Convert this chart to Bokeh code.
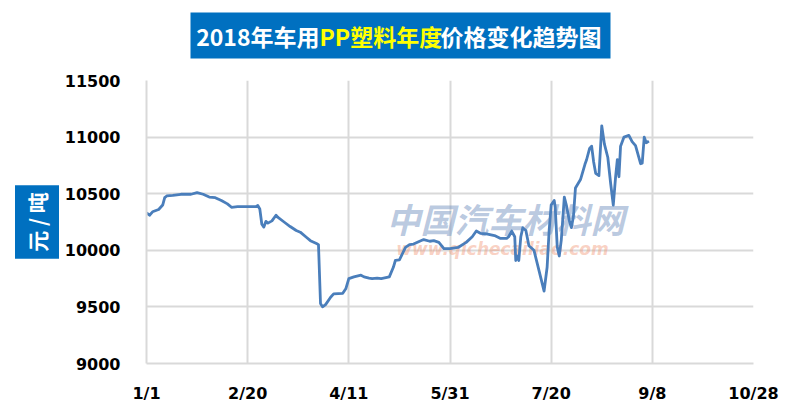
from bokeh.plotting import figure
from bokeh.models import Label, FixedTicker, Range1d, Title
from bokeh.layouts import column
from bokeh.core.properties import value
from bokeh.embed import file_html
from bokeh.resources import INLINE

# ---- data (day offset from Jan 1, 2018 ; price in 元/吨) ----
days = [0, 1.5, 3, 6, 8, 9, 10, 13, 17, 22, 25, 28, 31, 34, 37, 40, 42, 45, 54, 55, 56,
        57, 58, 59, 60, 62, 64, 65, 68, 71, 74, 76, 79, 81, 84, 85, 86, 87, 88.5, 91,
        92.5, 97, 98.5, 100, 102.5, 106, 107.5, 110, 111.5, 114, 116, 120, 122, 123,
        125, 128, 130, 132, 135, 137, 140, 142, 144.5, 147, 150, 154, 158, 161, 163,
        165, 168, 172, 175, 178, 179, 180.5, 182, 182.5, 183, 184, 185, 186, 187.5,
        189, 191.5, 194, 196.5, 198, 199, 200, 201.5, 202, 203, 204, 205, 206.5,
        207.5, 209, 210, 211, 212, 214.5, 216.7, 217.5, 219, 220, 221, 222, 223.6,
        225, 226.3, 228, 229.4, 230.7, 231.8, 232.7, 233.5, 234.3, 236, 238.4, 240,
        241.7, 244.2, 245, 246, 247, 248.3]
prices = [10330, 10310, 10340, 10360, 10400, 10465, 10480, 10485, 10495, 10495, 10510,
          10495, 10470, 10465, 10440, 10410, 10380, 10385, 10385, 10395, 10365, 10230,
          10205, 10255, 10240, 10260, 10310, 10290, 10250, 10210, 10175, 10160, 10115,
          10085, 10060, 10050, 9530, 9500, 9520, 9585, 9615, 9620, 9660, 9750, 9765,
          9780, 9765, 9755, 9750, 9755, 9750, 9765, 9850, 9910, 9915, 10025, 10050,
          10055, 10080, 10095, 10080, 10085, 10070, 10015, 10015, 10025, 10070, 10120,
          10170, 10150, 10145, 10130, 10105, 10105, 10120, 10170, 10120, 9910, 9950,
          9910, 10120, 10200, 10175, 10040, 10000, 9820, 9640, 9850, 10175, 10400,
          10440, 10380, 10030, 9950, 10090, 10470, 10400, 10260, 10200, 10300, 10550,
          10625, 10760, 10800, 10900, 10920, 10780, 10680, 10660, 11100, 10940, 10820,
          10590, 10400, 10640, 10800, 10650, 10920, 11000, 11015, 10960, 10925, 10765,
          10770, 11000, 10950, 10965]

x_ticks = [0, 50, 100, 150, 200, 250, 300]
x_tick_labels = ["1/1", "2/20", "4/11", "5/31", "7/20", "9/8", "10/28"]
y_ticks = [9000, 9500, 10000, 10500, 11000, 11500]

title_a = "2018年车用"
title_b = "PP塑料年度"
title_c = "价格变化趋势图"
y_label = "元 / 吨"

blue = "#0070c0"
W = 792
TH = 62           # height of the title strip
H = 405 - TH      # height of the chart
FL, FR = 146, 39

# ---- title strip (its own figure, page-pixel coordinates) ----
t = figure(width=W, height=TH, output_backend="svg", toolbar_location=None,
           x_range=Range1d(FL, W - FR), y_range=Range1d(TH, 0),
           min_border_left=FL, min_border_right=FR, min_border_top=0,
           min_border_bottom=0, x_axis_type=None, y_axis_type=None)
t.grid.visible = False
t.outline_line_color = None
t.background_fill_color = "white"
t.border_fill_color = "white"
t.quad(left=[190], right=[610], top=[12], bottom=[58], fill_color=blue, line_color=None)
tf = dict(text_font=value("Noto Sans CJK SC"), text_font_style="bold",
          text_font_size="23px", text_baseline="middle")
t.text(x=[319], y=[35], text=[title_a], text_align="right", text_color="white", **tf)
t.text(x=[319], y=[35], text=[title_b], text_align="left", text_color="#ffff00", **tf)
t.text(x=[440], y=[35], text=[title_c], text_align="left", text_color="white", **tf)

# ---- chart ----
FT, FB = 80 - TH, 42
p = figure(width=W, height=H, output_backend="svg", toolbar_location=None,
           x_range=Range1d(0, 300), y_range=Range1d(9000, 11500),
           min_border_left=FL, min_border_right=FR, min_border_top=FT,
           min_border_bottom=FB)
p.outline_line_color = None
p.background_fill_color = "white"
p.border_fill_color = "white"

grid_col = "#d9d9d9"
p.xgrid.grid_line_color = grid_col
p.ygrid.grid_line_color = grid_col
p.xgrid.grid_line_width = 2
p.ygrid.grid_line_width = 2
p.xaxis.ticker = FixedTicker(ticks=x_ticks)
p.xaxis.major_label_overrides = {t_: l for t_, l in zip(x_ticks, x_tick_labels)}
p.yaxis.ticker = FixedTicker(ticks=y_ticks)
p.xgrid.ticker = FixedTicker(ticks=x_ticks)
p.ygrid.ticker = FixedTicker(ticks=y_ticks)

for ax in (p.xaxis[0], p.yaxis[0]):
    ax.axis_line_color = grid_col
    ax.axis_line_width = 2
    ax.major_tick_line_color = None
    ax.minor_tick_line_color = None
    ax.major_label_text_font = "DejaVu Sans"
    ax.major_label_text_font_style = "bold"
    ax.major_label_text_font_size = "16px"
    ax.major_label_text_color = "black"
p.yaxis.major_label_standoff = 20
p.xaxis.major_label_standoff = 14

# y-axis label box as a side title
p.add_layout(Title(text=y_label, align="center", text_color="white",
                   background_fill_color=blue, text_font="Noto Sans CJK SC",
                   text_font_style="bold", text_font_size="21px", padding=7,
                   standoff=5), "left")

# px -> data helpers
fw, fh = W - FL - FR, H - FT - FB
def dx(px):  # page px -> day
    return (px - FL) / fw * 300
def dy(py):  # page px (from top) -> price
    return 11500 - (py - 80) / fh * 2500

# watermark
p.add_layout(Label(x=dx(505), y=dy(218), text="中国汽车材料网", text_align="center",
                   text_baseline="middle", text_font="Noto Sans CJK SC",
                   text_font_style="bold italic", text_font_size="34px",
                   text_color="#7f9cc6", text_alpha=0.55, level="underlay"))
p.add_layout(Label(x=dx(502), y=dy(248), text="www.qichecailiao.com", text_align="center",
                   text_baseline="middle", text_font="DejaVu Sans",
                   text_font_style="bold italic", text_font_size="17px",
                   text_color="#f29a7a", text_alpha=0.45, level="underlay"))

p.line(days, prices, line_color="#4a7ebb", line_width=2.8, line_join="round")

layout = column(t, p, spacing=0)
open("out.html", "w").write(file_html(layout, INLINE))
